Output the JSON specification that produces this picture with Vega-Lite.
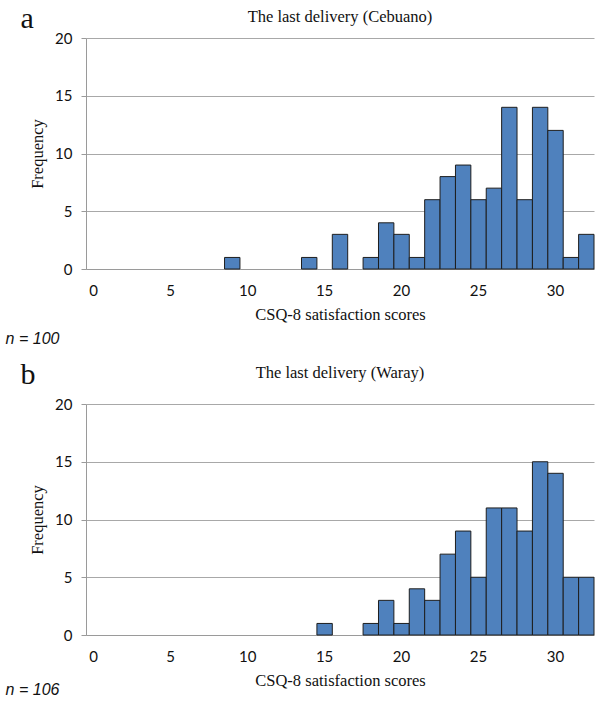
{
  "$schema": "https://vega.github.io/schema/vega-lite/v6.json",
  "padding": {"left": 5, "top": 3, "right": 0, "bottom": 0},
  "spacing": 12,
  "config": {
    "view": {"stroke": null},
    "axis": {
      "labelFont": "Lato",
      "labelFontSize": 15,
      "labelColor": "#111111",
      "titleFont": "Liberation Serif",
      "titleFontSize": 16.5,
      "titleFontWeight": "normal",
      "titleColor": "#111111",
      "domainColor": "#9a9a9a",
      "gridColor": "#a8a8a8",
      "tickColor": "#9a9a9a"
    },
    "axisX": {"ticks": false, "tickSize": 0, "labelPadding": 14, "titlePadding": 8, "grid": false, "labelAngle": 0},
    "axisY": {"tickSize": 5, "labelPadding": 9, "titlePadding": 9, "grid": true},
    "title": {"fontWeight": "normal", "color": "#111111"}
  },
  "datasets": {
    "cebuano": [
      {"score": 9, "frequency": 1},
      {"score": 14, "frequency": 1},
      {"score": 16, "frequency": 3},
      {"score": 18, "frequency": 1},
      {"score": 19, "frequency": 4},
      {"score": 20, "frequency": 3},
      {"score": 21, "frequency": 1},
      {"score": 22, "frequency": 6},
      {"score": 23, "frequency": 8},
      {"score": 24, "frequency": 9},
      {"score": 25, "frequency": 6},
      {"score": 26, "frequency": 7},
      {"score": 27, "frequency": 14},
      {"score": 28, "frequency": 6},
      {"score": 29, "frequency": 14},
      {"score": 30, "frequency": 12},
      {"score": 31, "frequency": 1},
      {"score": 32, "frequency": 3}
    ],
    "waray": [
      {"score": 15, "frequency": 1},
      {"score": 18, "frequency": 1},
      {"score": 19, "frequency": 3},
      {"score": 20, "frequency": 1},
      {"score": 21, "frequency": 4},
      {"score": 22, "frequency": 3},
      {"score": 23, "frequency": 7},
      {"score": 24, "frequency": 9},
      {"score": 25, "frequency": 5},
      {"score": 26, "frequency": 11},
      {"score": 27, "frequency": 11},
      {"score": 28, "frequency": 9},
      {"score": 29, "frequency": 15},
      {"score": 30, "frequency": 14},
      {"score": 31, "frequency": 5},
      {"score": 32, "frequency": 5}
    ]
  },
  "vconcat": [
    {
      "title": {"text": "a", "anchor": "start", "font": "Liberation Serif", "fontSize": 30, "offset": -25, "dx": 15},
      "vconcat": [
        {
          "title": {"text": "n = 100", "orient": "bottom", "anchor": "start", "font": "Liberation Sans", "fontStyle": "italic", "fontSize": 16, "dx": -24, "offset": 8},
          "vconcat": [
            {
              "width": 508,
              "height": 231,
              "title": {"text": "The last delivery (Cebuano)", "font": "Liberation Serif", "fontSize": 16.5, "anchor": "middle", "frame": "group", "offset": 6},
              "data": {"name": "cebuano"},
              "mark": {"type": "bar", "fill": "#4F81BD", "stroke": "#1e1e1e", "strokeWidth": 1},
              "encoding": {
                "x": {"field": "score", "type": "ordinal", "scale": {"domain": [0,1,2,3,4,5,6,7,8,9,10,11,12,13,14,15,16,17,18,19,20,21,22,23,24,25,26,27,28,29,30,31,32], "paddingInner": 0, "paddingOuter": 0}, "axis": {"values": [0,5,10,15,20,25,30], "title": "CSQ-8 satisfaction scores"}},
                "y": {"field": "frequency", "type": "quantitative", "scale": {"domain": [0, 20]}, "axis": {"values": [0,5,10,15,20], "title": "Frequency"}}
              }
            }
          ]
        }
      ]
    },
    {
      "title": {"text": "b", "anchor": "start", "font": "Liberation Serif", "fontSize": 30, "offset": -25, "dx": 15},
      "vconcat": [
        {
          "title": {"text": "n = 106", "orient": "bottom", "anchor": "start", "font": "Liberation Sans", "fontStyle": "italic", "fontSize": 16, "dx": -24, "offset": -7},
          "vconcat": [
            {
              "width": 508,
              "height": 231,
              "title": {"text": "The last delivery (Waray)", "font": "Liberation Serif", "fontSize": 16.5, "anchor": "middle", "frame": "group", "offset": 16},
              "data": {"name": "waray"},
              "mark": {"type": "bar", "fill": "#4F81BD", "stroke": "#1e1e1e", "strokeWidth": 1},
              "encoding": {
                "x": {"field": "score", "type": "ordinal", "scale": {"domain": [0,1,2,3,4,5,6,7,8,9,10,11,12,13,14,15,16,17,18,19,20,21,22,23,24,25,26,27,28,29,30,31,32], "paddingInner": 0, "paddingOuter": 0}, "axis": {"values": [0,5,10,15,20,25,30], "title": "CSQ-8 satisfaction scores"}},
                "y": {"field": "frequency", "type": "quantitative", "scale": {"domain": [0, 20]}, "axis": {"values": [0,5,10,15,20], "title": "Frequency"}}
              }
            }
          ]
        }
      ]
    }
  ]
}
